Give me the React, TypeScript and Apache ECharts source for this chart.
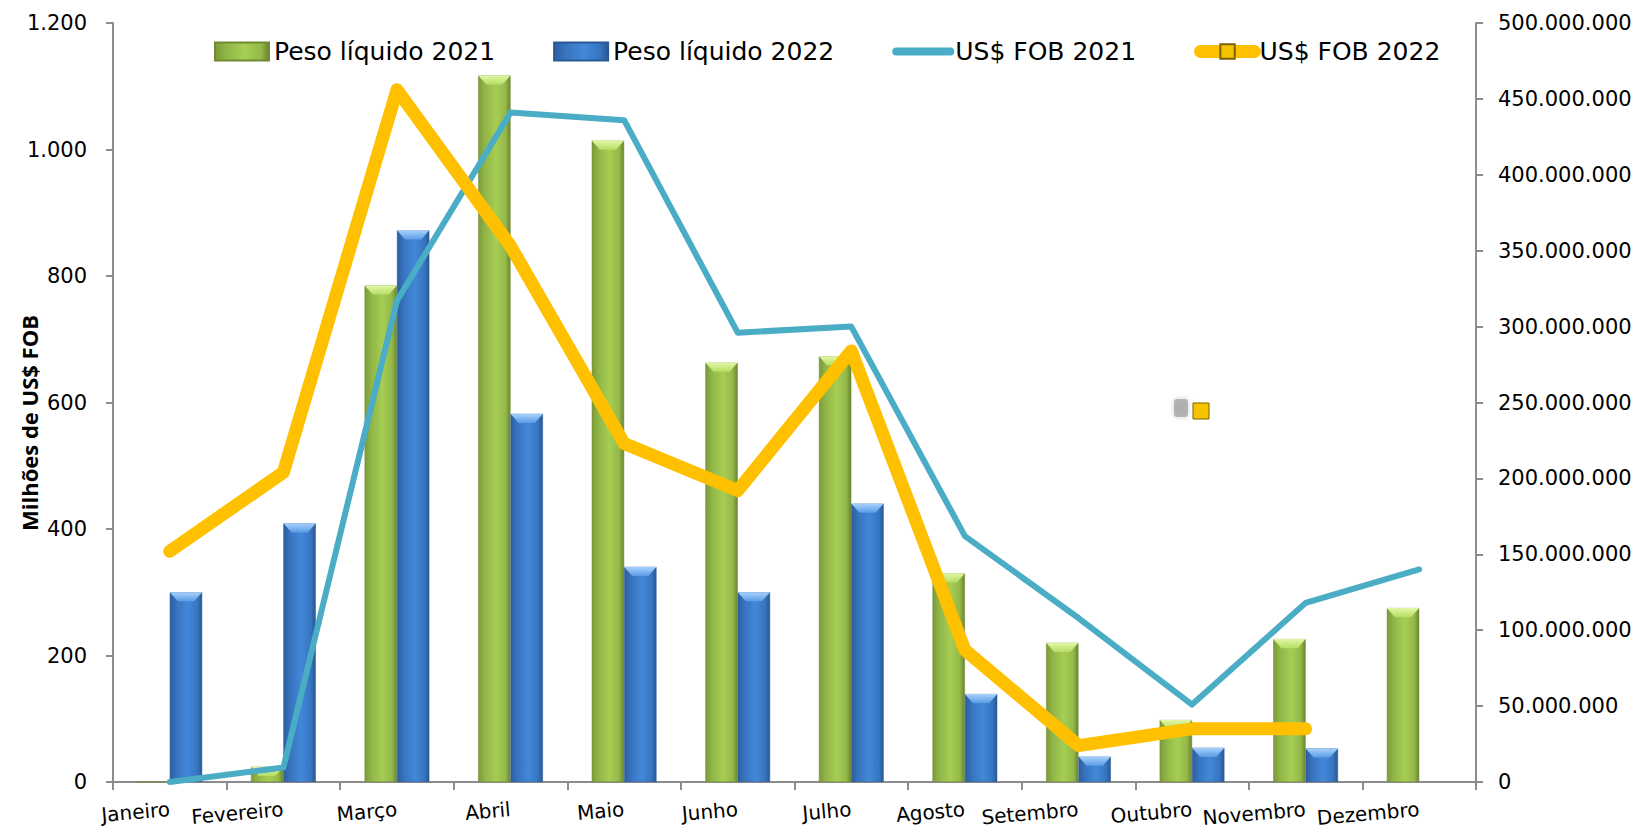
import React, { useEffect, useRef } from "react";
import * as echarts from "echarts";

const categories = ["Janeiro", "Fevereiro", "Março", "Abril", "Maio", "Junho", "Julho", "Agosto", "Setembro", "Outubro", "Novembro", "Dezembro"];
const peso2021 = [0, 24, 785, 1117, 1014, 663, 673, 330, 220, 98, 226, 275];
const peso2022 = [300, 409, 872, 582, 340, 300, 440, 139, 40, 54, 53, null];
const fob2021 = [0, 9500000, 317000000, 441000000, 436000000, 296000000, 300000000, 162000000, 108000000, 51000000, 118000000, 140000000];
const fob2022 = [152000000, 204000000, 456000000, 353000000, 223000000, 192000000, 284000000, 87000000, 24000000, 35000000, 35000000, null];
const leftTicks = { min: 0, max: 1200, interval: 200 };
const rightTicks = { min: 0, max: 500000000, interval: 50000000 };

const FONT = "DejaVu Sans";
const fmt = (v: number) => String(v).replace(/\B(?=(\d{3})+(?!\d))/g, ".");

const greenGrad = new echarts.graphic.LinearGradient(0, 0, 1, 0, [
  { offset: 0, color: "#7C9A38" },
  { offset: 0.2, color: "#90B548" },
  { offset: 0.55, color: "#A6CE53" },
  { offset: 0.85, color: "#94B84A" },
  { offset: 1, color: "#6A8530" },
]);
const blueGrad = new echarts.graphic.LinearGradient(0, 0, 1, 0, [
  { offset: 0, color: "#2C5E9F" },
  { offset: 0.2, color: "#3773BE" },
  { offset: 0.55, color: "#4288D9" },
  { offset: 0.85, color: "#3775C0" },
  { offset: 1, color: "#2A5894" },
]);
const greenBevel = new echarts.graphic.LinearGradient(0, 0, 0, 1, [
  { offset: 0, color: "#E2F7A8" },
  { offset: 1, color: "#B5DD63" },
]);
const blueBevel = new echarts.graphic.LinearGradient(0, 0, 0, 1, [
  { offset: 0, color: "#A9D2FA" },
  { offset: 1, color: "#5A9BE6" },
]);
const BEVEL = "path://M0,0 L10,0 L7.5,3 L2.5,3 Z";

export default function App() {
  const ref = useRef<HTMLDivElement>(null);
  useEffect(() => {
    if (!ref.current) return;
    const chart = echarts.init(ref.current, null, { renderer: "svg" });
    const axisLine = { show: true, lineStyle: { color: "#8C8C8C", width: 2 } };
    const pos = (arr: (number | null)[]) => arr.map((v) => (v && v > 0 ? v : null));
    chart.setOption({
      animation: false,
      backgroundColor: "#ffffff",
      textStyle: { fontFamily: FONT },
      grid: { left: 113, right: 163, top: 23, bottom: 49, containLabel: false },
      legend: {
        left: 209,
        top: 34,
        itemWidth: 54,
        itemHeight: 18,
        itemGap: 58,
        textStyle: { fontFamily: FONT, fontSize: 25, color: "#000" },
        data: [
          { name: "Peso líquido 2021", icon: "rect" },
          { name: "Peso líquido 2022", icon: "rect" },
          { name: "US$ FOB 2021", lineStyle: { width: 8, cap: "round" }, itemStyle: { opacity: 0 } },
          { name: "US$ FOB 2022", lineStyle: { width: 13, cap: "round" } },
        ],
      },
      xAxis: {
        type: "category",
        data: categories,
        boundaryGap: true,
        axisLine,
        axisTick: { show: true, length: 8, lineStyle: { color: "#8C8C8C", width: 2 } },
        axisLabel: { rotate: 5, margin: 27, fontSize: 20, color: "#000", fontFamily: FONT, interval: 0 },
        splitLine: { show: false },
      },
      yAxis: [
        {
          type: "value",
          ...leftTicks,
          axisLine,
          axisTick: { show: true, length: 7, lineStyle: { color: "#8C8C8C", width: 2 } },
          axisLabel: { fontSize: 21, color: "#000", fontFamily: FONT, margin: 26, formatter: fmt },
          splitLine: { show: false },
        },
        {
          type: "value",
          ...rightTicks,
          position: "right",
          axisLine,
          axisTick: { show: true, length: 7, lineStyle: { color: "#8C8C8C", width: 2 } },
          axisLabel: { fontSize: 21, color: "#000", fontFamily: FONT, margin: 22, formatter: fmt },
          splitLine: { show: false },
        },
      ],
      series: [
        {
          name: "Peso líquido 2021",
          type: "bar",
          data: peso2021,
          yAxisIndex: 0,
          barGap: "0%",
          barCategoryGap: "43%",
          itemStyle: { color: greenGrad, borderColor: "#6E8A32", borderWidth: 0.5 },
        },
        {
          name: "Peso líquido 2022",
          type: "bar",
          data: peso2022,
          yAxisIndex: 0,
          barGap: "0%",
          barCategoryGap: "43%",
          itemStyle: { color: blueGrad, borderColor: "#2A5894", borderWidth: 0.5 },
        },
        {
          name: "bevel2021",
          type: "pictorialBar",
          data: pos(peso2021),
          yAxisIndex: 0,
          barGap: "0%",
          barCategoryGap: "43%",
          symbol: BEVEL,
          symbolSize: ["100%", 9],
          symbolPosition: "end",
          symbolRepeat: false,
          z: 3,
          silent: true,
          itemStyle: { color: greenBevel },
        },
        {
          name: "bevel2022",
          type: "pictorialBar",
          data: pos(peso2022),
          yAxisIndex: 0,
          barGap: "0%",
          barCategoryGap: "43%",
          symbol: BEVEL,
          symbolSize: ["100%", 9],
          symbolPosition: "end",
          symbolRepeat: false,
          z: 3,
          silent: true,
          itemStyle: { color: blueBevel },
        },
        {
          name: "US$ FOB 2021",
          type: "line",
          data: fob2021,
          yAxisIndex: 1,
          symbol: "none",
          z: 4,
          lineStyle: { color: "#4BACC6", width: 6, cap: "round", join: "round" },
          itemStyle: { color: "#4BACC6" },
        },
        {
          name: "US$ FOB 2022",
          type: "line",
          data: fob2022,
          yAxisIndex: 1,
          symbol: "rect",
          symbolSize: [13, 17],
          showSymbol: false,
          z: 5,
          lineStyle: { color: "#FFC000", width: 13, cap: "round", join: "round" },
          itemStyle: { color: "#F2C400", borderColor: "#7F6000", borderWidth: 1 },
        },
      ],
      graphic: [
        {
          type: "text",
          x: 29,
          y: 423,
          rotation: Math.PI / 2,
          style: {
            text: "Milhões de US$ FOB",
            fontFamily: "Open Sans",
            fontWeight: "bold",
            fontSize: 22,
            fill: "#000",
            align: "center",
            verticalAlign: "middle",
          },
        },
        {
          type: "rect",
          shape: { x: 1174, y: 399, width: 14, height: 18, r: 3 },
          style: { fill: "#A6A6A6", opacity: 0.75, shadowBlur: 5, shadowColor: "#BBBBBB" },
        },
        {
          type: "rect",
          shape: { x: 1193, y: 403, width: 16, height: 16 },
          style: { fill: "#F5C400", stroke: "#7F6000", lineWidth: 1 },
        },
      ],
    });
    return () => chart.dispose();
  }, []);
  return <div ref={ref} style={{ position: "fixed", left: 0, top: 0, width: 1639, height: 831 }} />;
}
